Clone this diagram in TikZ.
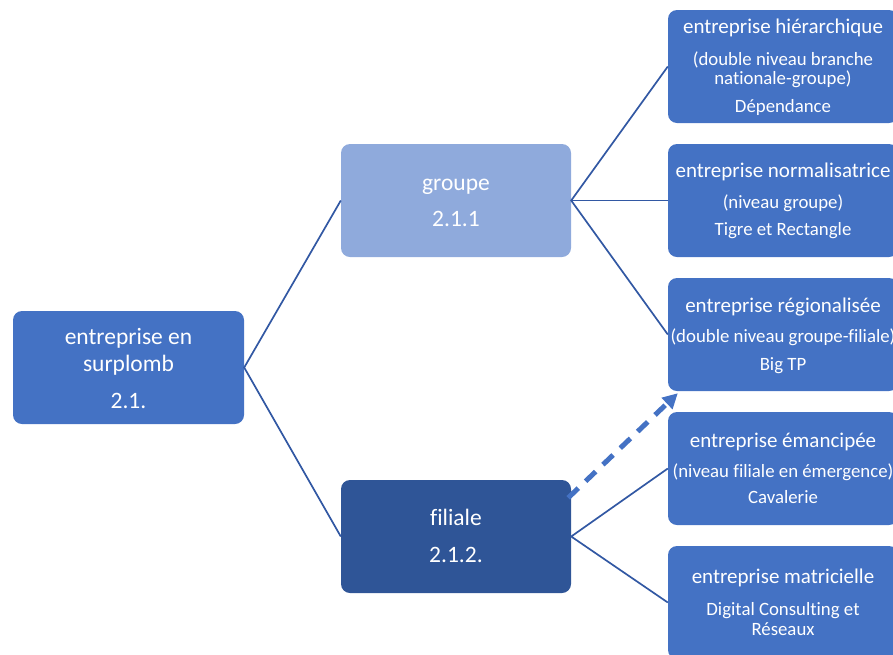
\documentclass[tikz,border=0pt]{standalone}
\usepackage{fontspec}
\setmainfont{Carlito}[Ligatures={NoCommon}]
\usetikzlibrary{arrows.meta,calc}
\definecolor{mid}{HTML}{4472C4}
\definecolor{light}{HTML}{8FAADC}
\definecolor{dark}{HTML}{2F5597}
\definecolor{conn}{HTML}{3258A3}
\tikzset{
  box/.style={rounded corners=9pt, minimum width=230pt, minimum height=113pt, inner sep=0pt},
  rbox/.style={box, fill=mid},
  conn/.style={draw=conn, line width=1.7pt},
  txt/.style={text=white, anchor=base, inner sep=0pt},
  hdt/.style={txt, font=\fontsize{21}{24}\selectfont},
  sbt/.style={txt, font=\fontsize{18.8}{21}\selectfont},
  bgt/.style={txt, font=\fontsize{23.5}{27}\selectfont},
}
\begin{document}
\begin{tikzpicture}[x=1pt,y=-1pt]
\useasboundingbox (0,0) rectangle (893,654);
\clip (0,0) rectangle (893,654);
% boxes
\node[box, fill=mid, minimum width=231pt] (root) at (128.5,367.5) {};
\node[box, fill=light] (grp) at (456,200.5) {};
\node[box, fill=dark] (fil) at (456,536.5) {};
\node[rbox] (r1) at (783,66.5) {};
\node[rbox] (r2) at (783,200.5) {};
\node[rbox] (r3) at (783,334.5) {};
\node[rbox] (r4) at (783,468.5) {};
\node[rbox] (r5) at (783,602.5) {};
% texts
\node[bgt] (roota) at (128.5,344) {entreprise en};
\node[bgt] (rootb) at (128.5,371) {surplomb};
\node[bgt] (rootc) at (128.5,408) {2.1.};
\node[bgt] (grpa) at (456,190) {groupe};
\node[bgt] (grpb) at (456,226) {2.1.1};
\node[bgt] (fila) at (456,525) {filiale};
\node[bgt] (filb) at (456,562) {2.1.2.};
\node[hdt] (r1a) at (783,33) {entreprise hiérarchique};
\node[sbt] (r1b) at (783,65) {(double niveau branche};
\node[sbt] (r1c) at (783,84) {nationale-groupe)};
\node[sbt] (r1d) at (783,112) {Dépendance};
\node[hdt] (r2a) at (783,177) {entreprise normalisatrice};
\node[sbt] (r2b) at (783,208) {(niveau groupe)};
\node[sbt] (r2c) at (783,235) {Tigre et Rectangle};
\node[hdt] (r3a) at (783,312) {entreprise régionalisée};
\node[sbt] (r3b) at (783,342) {(double niveau groupe-filiale)};
\node[sbt] (r3c) at (783,370) {Big TP};
\node[hdt] (r4a) at (783,447) {entreprise émancipée};
\node[sbt] (r4b) at (783,477) {(niveau filiale en émergence)};
\node[sbt] (r4c) at (783,503) {Cavalerie};
\node[hdt] (r5a) at (783,583) {entreprise matricielle};
\node[sbt] (r5b) at (783,615) {Digital Consulting et};
\node[sbt] (r5c) at (783,635) {Réseaux};
% connectors
\draw[conn] (grp.west) -- (root.east) -- (fil.west);
\draw[conn] (r1.west) -- (grp.east) -- (r3.west);
\draw[conn] (grp.east) -- (r2.west);
\draw[conn] (r4.west) -- (fil.east) -- (r5.west);
\coordinate (ds) at ([xshift=-3pt,yshift=-18pt]fil.north east);
\coordinate (de) at ([xshift=10pt,yshift=-2pt]r3.south west);
\draw[draw=mid, line width=5pt, dash pattern=on 14pt off 10pt, -{Triangle[length=15pt,width=15pt]}] (ds) -- (de);
\end{tikzpicture}
\end{document}
